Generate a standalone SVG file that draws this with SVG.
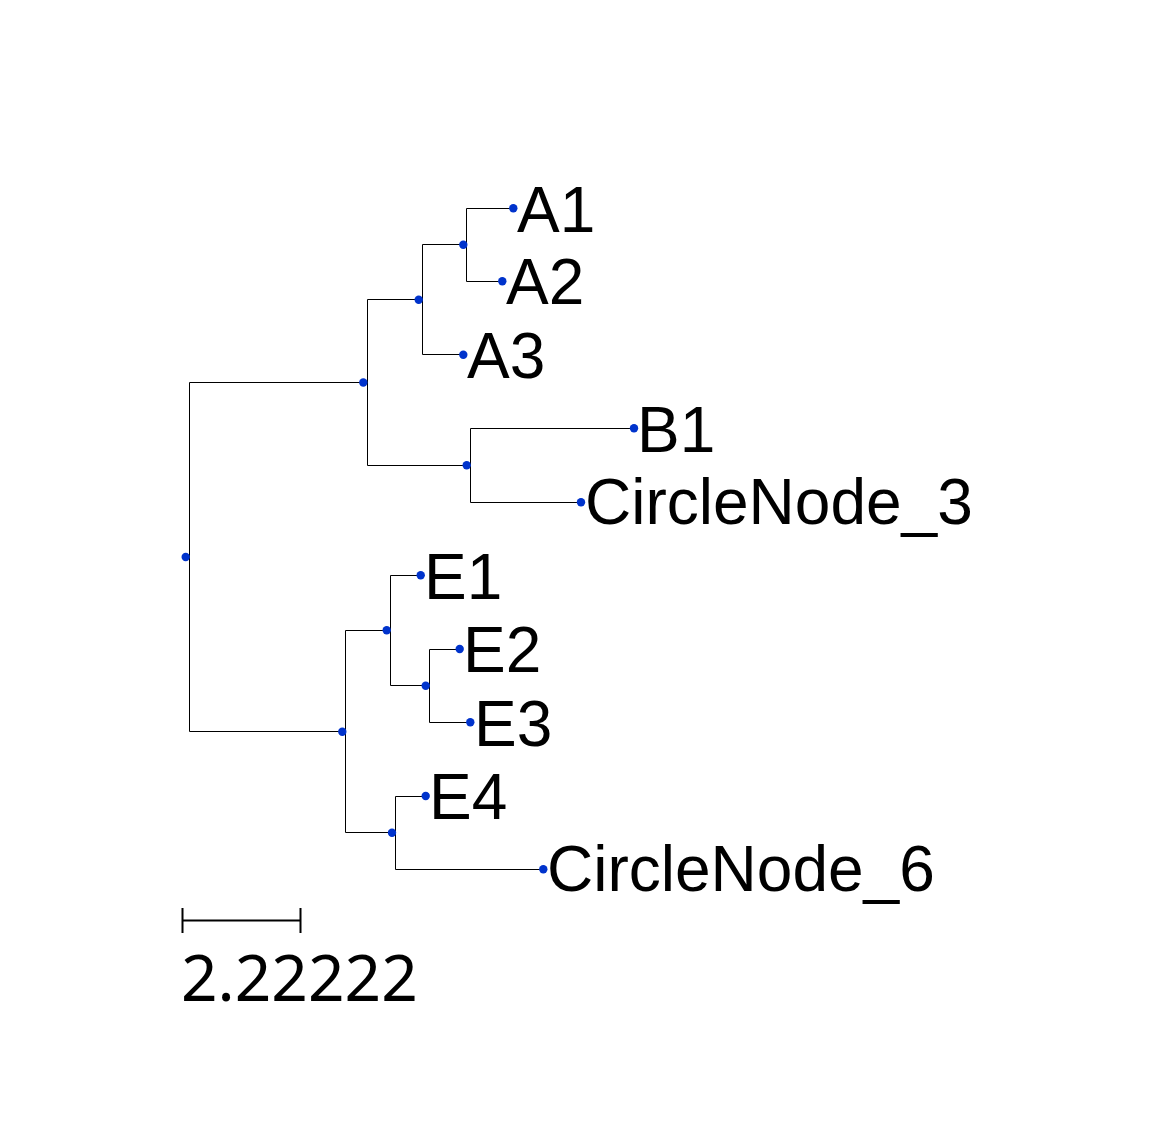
<svg xmlns="http://www.w3.org/2000/svg" width="1164" height="1148" viewBox="0 0 1164 1148">
<style>
.e{fill:none;stroke:#000;stroke-width:1}
.sb{fill:none;stroke:#000;stroke-width:2}
.n{fill:#0033cc}
.l{font-family:"Liberation Sans",Arial,sans-serif;font-size:64px;fill:#000}
.s{font-family:"Noto Sans","Open Sans",sans-serif;font-size:64px;fill:#000}
</style>
<rect width="1164" height="1148" fill="#fff"/>
<g id="connectors">
<path class="e" d="M189.5 382.5V731.5"/>
<path class="e" d="M189.5 382.5H363"/>
<path class="e" d="M189.5 731.5H342"/>
<path class="e" d="M367.5 299.5V465.5"/>
<path class="e" d="M367.5 299.5H419"/>
<path class="e" d="M367.5 465.5H467"/>
<path class="e" d="M422.5 244.5V354.5"/>
<path class="e" d="M422.5 244.5H463"/>
<path class="e" d="M422.5 354.5H463"/>
<path class="e" d="M466.5 208.5V281.5"/>
<path class="e" d="M466.5 208.5H513"/>
<path class="e" d="M466.5 281.5H502"/>
<path class="e" d="M470.5 428.5V502.5"/>
<path class="e" d="M470.5 428.5H634"/>
<path class="e" d="M470.5 502.5H581"/>
<path class="e" d="M345.5 630.5V832.5"/>
<path class="e" d="M345.5 630.5H387"/>
<path class="e" d="M345.5 832.5H392"/>
<path class="e" d="M390.5 575.5V685.5"/>
<path class="e" d="M390.5 575.5H421"/>
<path class="e" d="M390.5 685.5H426"/>
<path class="e" d="M429.5 649.5V722.5"/>
<path class="e" d="M429.5 649.5H460"/>
<path class="e" d="M429.5 722.5H470"/>
<path class="e" d="M395.5 796.5V869.5"/>
<path class="e" d="M395.5 796.5H426"/>
<path class="e" d="M395.5 869.5H543"/>
</g>
<g id="root"><circle class="n" cx="185.7" cy="557" r="4.2"/></g>
<g id="node_AB"><circle class="n" cx="363.3" cy="382.5" r="4.2"/></g>
<g id="node_A"><circle class="n" cx="418.7" cy="299.7" r="4.2"/></g>
<g id="node_A12"><circle class="n" cx="463.3" cy="244.7" r="4.2"/></g>
<g id="A1"><circle class="n" cx="513.3" cy="208.3" r="4.2"/><text class="l" x="517" y="231.5">A1</text></g>
<g id="A2"><circle class="n" cx="502.3" cy="281.3" r="4.2"/><text class="l" x="506" y="304.3">A2</text></g>
<g id="A3"><circle class="n" cx="463.3" cy="354.7" r="4.2"/><text class="l" x="467" y="377.5">A3</text></g>
<g id="node_B"><circle class="n" cx="466.7" cy="465.3" r="4.2"/></g>
<g id="B1"><circle class="n" cx="634" cy="428.3" r="4.2"/><text class="l" x="637" y="451.5">B1</text></g>
<g id="CircleNode_3"><circle class="n" cx="581" cy="502.3" r="4.2"/><text class="l" x="585" y="524">CircleNode_3</text></g>
<g id="node_E"><circle class="n" cx="342.3" cy="731.7" r="4.2"/></g>
<g id="node_E123"><circle class="n" cx="386.7" cy="630.3" r="4.2"/></g>
<g id="E1"><circle class="n" cx="420.7" cy="575.3" r="4.2"/><text class="l" x="424" y="598.5">E1</text></g>
<g id="node_E23"><circle class="n" cx="425.7" cy="685.7" r="4.2"/></g>
<g id="E2"><circle class="n" cx="459.7" cy="649" r="4.2"/><text class="l" x="463" y="672">E2</text></g>
<g id="E3"><circle class="n" cx="470.3" cy="722.3" r="4.2"/><text class="l" x="474" y="745.5">E3</text></g>
<g id="node_E4C6"><circle class="n" cx="392" cy="832.7" r="4.2"/></g>
<g id="E4"><circle class="n" cx="425.7" cy="796" r="4.2"/><text class="l" x="429" y="819">E4</text></g>
<g id="CircleNode_6"><circle class="n" cx="543.3" cy="869.3" r="4.2"/><text class="l" x="547" y="891">CircleNode_6</text></g>
<g id="scale">
<path class="sb" d="M182 920.5H301M182.5 908V933M300.5 908V933"/>
<text class="s" x="181" y="1001">2.22222</text>
</g>
</svg>
